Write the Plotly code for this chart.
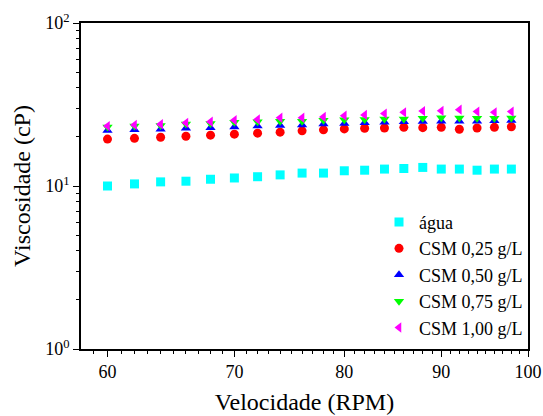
import plotly.graph_objects as go
import math

rpm = [60, 62, 64, 66, 68, 70, 72, 74, 76, 78, 80, 82, 84, 86, 88, 90, 92, 94, 96, 98]
agua = [10.0, 10.3, 10.6, 10.7, 11.0, 11.2, 11.4, 11.7, 12.0, 12.0, 12.4, 12.5, 12.7, 12.8, 13.0, 12.7, 12.7, 12.5, 12.7, 12.7]
csm025 = [19.4, 19.6, 19.9, 20.2, 20.5, 20.8, 21.1, 21.4, 21.8, 22.1, 22.4, 22.6, 22.7, 22.9, 22.8, 22.9, 22.3, 22.7, 22.9, 23.1]
csm050 = [21.9, 22.1, 22.3, 22.6, 22.8, 23.0, 23.3, 23.5, 23.7, 24.0, 24.2, 24.4, 24.6, 24.8, 24.9, 25.0, 25.0, 25.0, 25.1, 25.2]
csm075 = [23.0, 23.3, 23.5, 24.0, 24.2, 24.6, 24.8, 25.0, 25.0, 25.3, 25.5, 25.6, 25.8, 25.8, 26.0, 26.2, 26.1, 26.0, 26.0, 26.1]
csm100 = [23.3, 23.7, 23.9, 24.4, 24.8, 25.3, 25.6, 26.2, 26.2, 26.5, 27.0, 27.3, 27.8, 28.3, 28.8, 28.9, 29.4, 28.6, 28.3, 28.6]

names = ["água", "CSM 0,25 g/L", "CSM 0,50 g/L", "CSM 0,75 g/L", "CSM 1,00 g/L"]
series = [agua, csm025, csm050, csm075, csm100]
colors = ["#00FFFF", "#FF0000", "#0000FF", "#00FF00", "#FF00FF"]
symbols = ["square", "circle", "triangle-up", "triangle-down", "triangle-left"]

x_ticks = [60, 70, 80, 90, 100]
y_ticks = [1, 10, 100]
y_ticktext = ["10<sup>0</sup>", "10<sup>1</sup>", "10<sup>2</sup>"]

fig = go.Figure()
for nm, ys, c, s in zip(names, series, colors, symbols):
    fig.add_trace(go.Scatter(x=rpm, y=ys, mode="markers", name=nm,
                             marker=dict(symbol=s, color=c, size=9, line=dict(width=0))))

font = "Liberation Serif"
fig.update_layout(
    width=543, height=416,
    margin=dict(l=81, r=15, t=23, b=67, autoexpand=False),
    paper_bgcolor="white", plot_bgcolor="white",
    font=dict(family=font, color="black", size=18),
    showlegend=True,
    legend=dict(x=1.0, xanchor="right", y=0.01, yanchor="bottom",
                bgcolor="rgba(0,0,0,0)", font=dict(family=font, size=18), tracegroupgap=0,
                itemwidth=30),
    xaxis=dict(type="log", range=[math.log10(58.1), 2.0], automargin=False,
               tickmode="array", tickvals=x_ticks, ticktext=[str(v) for v in x_ticks],
               ticks="outside", ticklen=6, tickwidth=1, tickcolor="black",
               showline=True, linecolor="black", linewidth=1.5, mirror=True,
               showgrid=False, zeroline=False,
               tickfont=dict(family=font, size=18),
               minor=dict(tickmode="array", tickvals=list(range(58, 101)),
                          ticks="outside", ticklen=3, tickcolor="black", showgrid=False),
               title=dict(text="Velocidade (RPM)", font=dict(family=font, size=24), standoff=12)),
    yaxis=dict(type="log", range=[0, 2], automargin=False,
               tickmode="array", tickvals=y_ticks, ticktext=y_ticktext,
               ticks="outside", ticklen=6, tickwidth=1, tickcolor="black",
               showline=True, linecolor="black", linewidth=1.5, mirror=True,
               showgrid=False, zeroline=False,
               tickfont=dict(family=font, size=18),
               minor=dict(tickmode="array",
                          tickvals=[2, 3, 4, 5, 6, 7, 8, 9, 20, 30, 40, 50, 60, 70, 80, 90],
                          ticks="outside", ticklen=3, tickcolor="black", showgrid=False),
               title=dict(text="Viscosidade (cP)", font=dict(family=font, size=24), standoff=8)),
)

fig.write_html("out.html", config={"displayModeBar": False},
               post_script="document.body.style.margin='0';document.body.style.overflow='hidden';")
